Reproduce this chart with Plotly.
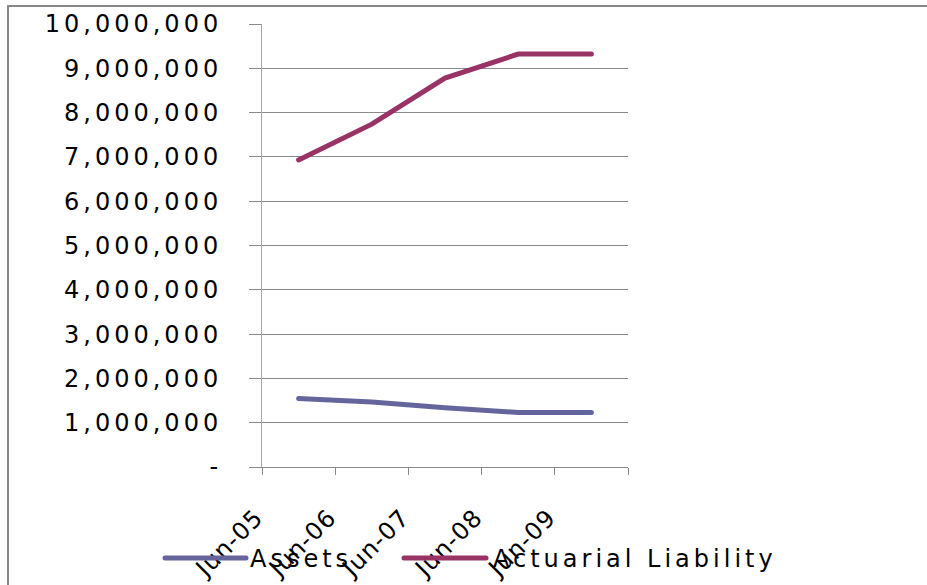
import plotly.graph_objects as go

# Valuation dates and funding values
periods = ["Jun-05", "Jun-06", "Jun-07", "Jun-08", "Jun-09"]
assets = [1545000, 1465000, 1340000, 1230000, 1230000]
liability = [6930000, 7740000, 8780000, 9320000, 9320000]

y_tick_values = [0, 1000000, 2000000, 3000000, 4000000, 5000000,
                 6000000, 7000000, 8000000, 9000000, 10000000]
y_tick_labels = ["-", "1,000,000", "2,000,000", "3,000,000", "4,000,000",
                 "5,000,000", "6,000,000", "7,000,000", "8,000,000",
                 "9,000,000", "10,000,000"]

ASSET_COLOR = "#65659d"
LIAB_COLOR = "#993366"
GRID = "#8a8a8a"
FONT = "DejaVu Sans"

W, H = 927, 585
L, R, T, B = 262, 299, 24, 118

# category slots: each period occupies one unit, points sit in the middle
x_pos = [i + 0.5 for i in range(len(periods))]
x_ticks = list(range(len(periods) + 1))
x_labels = periods + [""]


def px(xp):
    return (xp - L) / (W - L - R)


def py(yp):
    return (H - B - yp) / (H - T - B)


fig = go.Figure()
fig.add_trace(go.Scatter(x=x_pos, y=assets, mode="lines", name="Assets",
                         line=dict(color=ASSET_COLOR, width=5)))
fig.add_trace(go.Scatter(x=x_pos, y=liability, mode="lines",
                         name="Actuarial Liability",
                         line=dict(color=LIAB_COLOR, width=5)))

shapes = [
    # chart frame
    dict(type="line", xref="paper", yref="paper", x0=px(8), x1=px(940),
         y0=py(6), y1=py(6), line=dict(color="#878787", width=2)),
    dict(type="line", xref="paper", yref="paper", x0=px(8), x1=px(8),
         y0=py(6), y1=py(600), line=dict(color="#878787", width=2)),
    # legend keys
    dict(type="line", xref="paper", yref="paper", x0=px(165), x1=px(246),
         y0=py(558), y1=py(558), line=dict(color=ASSET_COLOR, width=5)),
    dict(type="line", xref="paper", yref="paper", x0=px(404), x1=px(486),
         y0=py(558), y1=py(558), line=dict(color=LIAB_COLOR, width=5)),
]

annotations = [
    dict(xref="paper", yref="paper", x=px(301), y=py(559), text="Assets",
         showarrow=False, xanchor="center", yanchor="middle",
         font=dict(family=FONT, size=24, color="black")),
    dict(xref="paper", yref="paper", x=px(635), y=py(559),
         text="Actuarial Liability", showarrow=False, xanchor="center",
         yanchor="middle", font=dict(family=FONT, size=24, color="black")),
]

fig.update_layout(
    width=W, height=H,
    margin=dict(l=L, r=R, t=T, b=B, pad=0, autoexpand=False),
    paper_bgcolor="white", plot_bgcolor="white",
    showlegend=False,
    shapes=shapes, annotations=annotations,
    font=dict(family=FONT, size=24, color="black"),
)
fig.update_xaxes(
    range=[0, len(periods)], tickmode="array", tickvals=x_ticks,
    ticktext=x_labels, tickangle=-45, ticks="outside", ticklen=7,
    tickcolor=GRID, showgrid=False, showline=True, linecolor=GRID,
    linewidth=1, zeroline=False, tickfont=dict(family=FONT, size=24),
    ticklabelstandoff=19, ticklabelshift=-6, automargin=False,
    fixedrange=True,
)
fig.update_yaxes(
    range=[0, 10000000], tickmode="array", tickvals=y_tick_values,
    ticktext=y_tick_labels, ticks="outside", ticklen=12, tickcolor=GRID,
    showgrid=True, gridcolor=GRID, gridwidth=1, showline=True,
    linecolor="#a6a6a6", linewidth=1, zeroline=False,
    tickfont=dict(family=FONT, size=24), ticklabelstandoff=22,
    automargin=False, fixedrange=True,
)

# wide text tracking and rounded line ends, applied after each render
post = """
var gd = document.getElementById('{plot_id}');
function styleChart() {
  gd.querySelectorAll('.ytick text, .annotation-text').forEach(function (t) {
    t.style.letterSpacing = '4px';
  });
  gd.querySelectorAll('.xtick text').forEach(function (t) {
    t.style.letterSpacing = '1px';
  });
  gd.querySelectorAll('.scatterlayer .js-line, .shapelayer path').forEach(function (p) {
    p.style.strokeLinecap = 'round';
  });
}
styleChart();
gd.on('plotly_afterplot', styleChart);
"""

fig.write_html("out.html", post_script=post)
